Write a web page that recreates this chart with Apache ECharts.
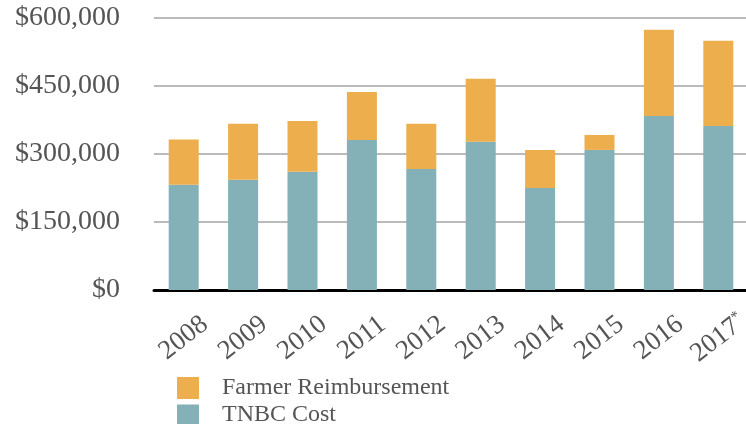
<!DOCTYPE html>
<html>
<head>
<meta charset="utf-8">
<script src="https://cdn.jsdelivr.net/npm/echarts@6/dist/echarts.min.js"></script>
<style>
  html, body { margin: 0; padding: 0; background: #fff; }
  #chart { width: 746px; height: 424px; }
</style>
</head>
<body>
<div id="chart"></div>
<script>
const years = ['2008', '2009', '2010', '2011', '2012', '2013', '2014', '2015', '2016', '2017*']
const tnbcCost = [232000, 243000, 261000, 331000, 267000, 327000, 225000, 309000, 384000, 362000]
const farmerReimb = [100000, 124000, 112000, 106000, 100000, 139000, 84000, 33000, 190000, 188000]
const yTicks = [0, 150000, 300000, 450000, 600000]

const fontFam = '"Liberation Serif", "DejaVu Serif", serif'
const legendText = { fontFamily: fontFam, fontSize: 24, color: '#555', padding: [0, 0, 0, 18] }
const chart = echarts.init(document.getElementById('chart'))
chart.setOption({
  animation: false,
  textStyle: { fontFamily: fontFam },
  grid: {
    left: 154,
    width: 594,
    top: 18,
    bottom: 134,
    outerBoundsMode: 'none'
  },
  legend: [
    {
      left: 172,
      top: 371,
      padding: 5,
      itemWidth: 22,
      itemHeight: 22,
      icon: 'rect',
      data: ['Farmer Reimbursement'],
      textStyle: legendText
    },
    {
      left: 172,
      top: 398,
      padding: 5,
      itemWidth: 22,
      itemHeight: 21,
      icon: 'rect',
      data: ['TNBC Cost'],
      textStyle: legendText
    }
  ],
  xAxis: {
    type: 'category',
    data: years,
    axisLine: { lineStyle: { color: '#000', width: 3 } },
    axisTick: { show: false },
    axisLabel: {
      interval: 0,
      rotate: 38,
      margin: 48,
      align: 'center',
      verticalAlign: 'middle',
      fontSize: 27,
      color: '#555',
      fontFamily: fontFam,
      formatter: function(v) {
        return v.replace('*', '{s|*}')
      },
      rich: {
        s: { fontSize: 15, color: '#555', verticalAlign: 'top', padding: [0, 0, 12, 0] }
      }
    }
  },
  yAxis: {
    type: 'value',
    min: yTicks[0],
    max: yTicks[yTicks.length - 1],
    interval: 150000,
    axisLine: { show: false },
    axisTick: { show: false },
    axisLabel: {
      margin: 34,
      fontSize: 28,
      color: '#555',
      fontFamily: fontFam,
      formatter: function(v) {
        return '$' + v.toLocaleString('en-US')
      }
    },
    splitLine: { lineStyle: { color: '#bbb', width: 2 } }
  },
  series: [
    {
      name: 'TNBC Cost',
      type: 'bar',
      stack: 'total',
      barWidth: 30,
      itemStyle: { color: '#84B0B8' },
      data: tnbcCost
    },
    {
      name: 'Farmer Reimbursement',
      type: 'bar',
      stack: 'total',
      barWidth: 30,
      itemStyle: { color: '#EDAF4D' },
      data: farmerReimb
    }
  ]
})
window.onresize = function() {
  chart.resize()
}
</script>
</body>
</html>
